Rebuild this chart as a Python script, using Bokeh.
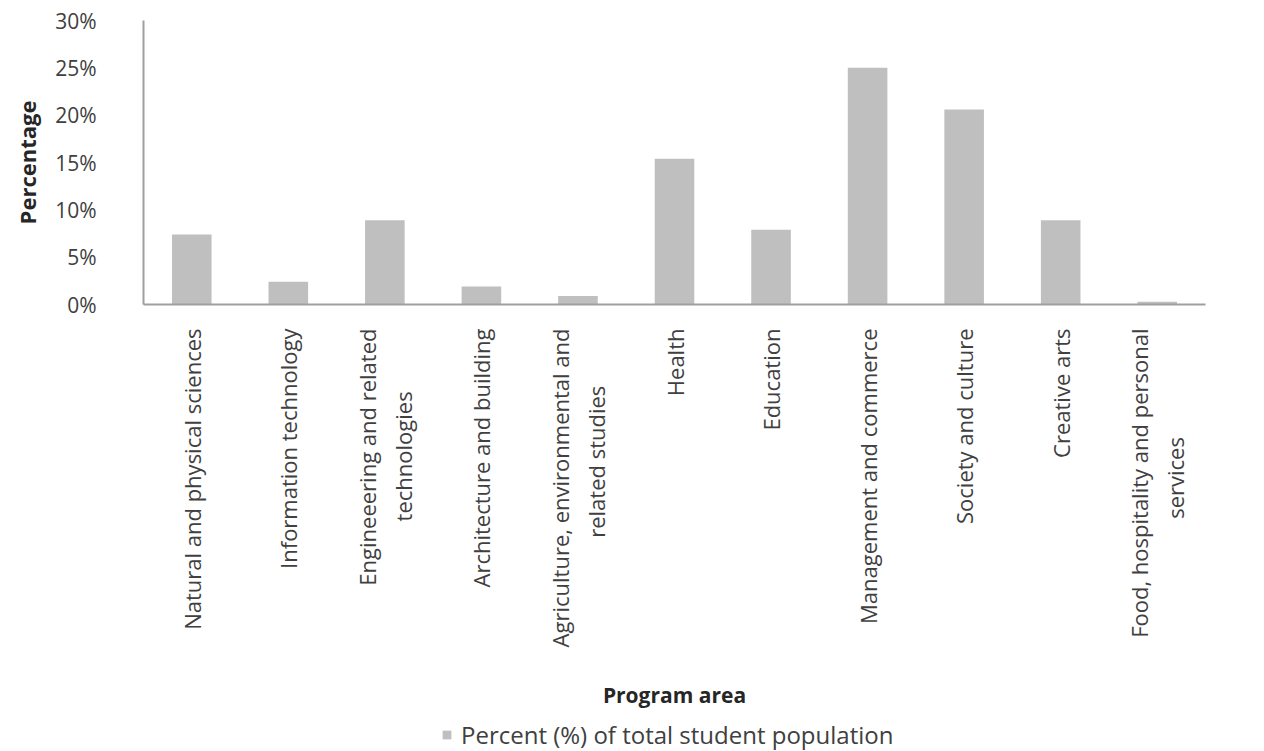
import math
from bokeh.plotting import figure
from bokeh.layouts import column
from bokeh.models import (FixedTicker, CustomJSTickFormatter, Legend, LegendItem,
                          Range1d, FactorRange)
from bokeh.embed import file_html
from bokeh.resources import INLINE

NB = "\u00a0"
categories = [
    "Natural and physical sciences",
    "Information technology",
    "Engineeering and related\ntechnologies" + NB * 11,
    "Architecture and building",
    "Agriculture, environmental and\nrelated studies" + NB * 10,
    "Health",
    "Education",
    "Management and commerce",
    "Society and culture",
    "Creative arts",
    "Food, hospitality and personal\nservices" + NB * 19,
]
values = [7.4, 2.4, 8.9, 1.9, 0.9, 15.4, 7.9, 25.0, 20.6, 8.9, 0.3]
y_ticks = [0, 5, 10, 15, 20, 25, 30]
series_name = "Percent (%) of total student population"

FONT = "Open Sans"
TXT = "#404040"
AX = "#9f9f9f"
BAR = "#bfbfbf"

p = figure(
    x_range=FactorRange(*categories, range_padding=0),
    y_range=Range1d(0, 30),
    width=1264, height=714,
    min_border_left=143, min_border_right=59, min_border_top=20, min_border_bottom=410,
    output_backend="svg", toolbar_location=None,
)
p.outline_line_color = None
p.xgrid.grid_line_color = None
p.ygrid.grid_line_color = None
p.background_fill_color = "white"
p.border_fill_color = "white"

r = p.vbar(x=categories, top=values, width=0.41, fill_color=BAR, line_color=None)

# y axis
ya = p.yaxis[0]
ya.ticker = FixedTicker(ticks=y_ticks)
ya.formatter = CustomJSTickFormatter(code="return tick.toFixed(0) + '%';")
ya.axis_line_color = AX
ya.axis_line_width = 2
ya.major_tick_line_color = None
ya.minor_tick_line_color = None
ya.major_label_standoff = 41
ya.major_label_text_font = FONT
ya.major_label_text_font_size = "21px"
ya.major_label_text_color = TXT
ya.axis_label = "Percentage"
ya.axis_label_text_font = FONT
ya.axis_label_text_font_size = "22px"
ya.axis_label_text_font_style = "bold"
ya.axis_label_text_color = "#262626"
ya.axis_label_standoff = 10

# x axis
xa = p.xaxis[0]
xa.axis_line_color = AX
xa.axis_line_width = 2
xa.major_tick_line_color = None
xa.minor_tick_line_color = None
xa.major_label_orientation = math.pi / 2
xa.major_label_standoff = 18
xa.major_label_text_font = FONT
xa.major_label_text_font_size = "22px"
xa.major_label_text_color = TXT
xa.major_label_text_line_height = 1.2
xa.axis_label = "Program area"
xa.axis_label_text_font = FONT
xa.axis_label_text_font_size = "21px"
xa.axis_label_text_font_style = "bold"
xa.axis_label_text_color = "#262626"
xa.axis_label_standoff = 31

# legend strip below the chart (same series, drawn outside the strip's visible range)
pl = figure(width=1264, height=37,
            x_range=FactorRange(*categories, range_padding=0),
            y_range=Range1d(100, 101),
            min_border_left=143, min_border_right=59, min_border_top=0, min_border_bottom=0,
            output_backend="svg", toolbar_location=None)
pl.axis.visible = False
pl.grid.visible = False
pl.outline_line_color = None
pl.border_fill_color = "white"
pl.background_fill_color = "white"
lr = pl.vbar(x=categories, top=values, width=0.41, fill_color=BAR, line_color=None)
legend = Legend(items=[LegendItem(label=series_name, renderers=[lr])],
                orientation="horizontal", location=(298, 0),
                label_text_font=FONT, label_text_font_size="24px",
                label_text_color=TXT, glyph_width=11, glyph_height=11,
                border_line_color=None, background_fill_alpha=0,
                margin=0, padding=0, label_standoff=9)
pl.add_layout(legend, "center")

layout = column(p, pl, spacing=0)
open("out.html", "w").write(file_html(layout, INLINE))
